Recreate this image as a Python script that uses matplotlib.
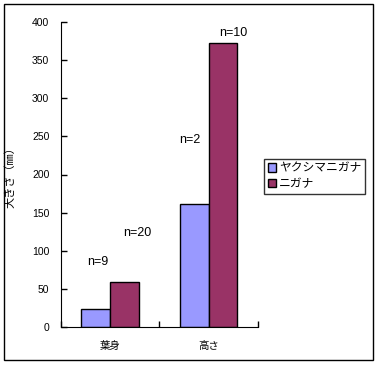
import matplotlib
matplotlib.use("Agg")
import matplotlib.pyplot as plt
from matplotlib.patches import Rectangle

plt.rcParams['font.family'] = ['Liberation Sans', 'Noto Sans CJK JP', 'DejaVu Sans']

# data
categories = ["葉身", "高さ"]
series_names = ["ヤクシマニガナ", "ニガナ"]
yakushima = [23, 161]
nigana = [59, 372]
n_yakushima = ["n=9", "n=2"]
n_nigana = ["n=20", "n=10"]
yticks = [0, 50, 100, 150, 200, 250, 300, 350, 400]

# label placement (data units)
lab_y_yakushima = [85, 245]
lab_y_nigana = [123, 386]
lab_dx_yakushima = [0.025, -0.045]
lab_dx_nigana = [0.135, 0.105]

colors = ["#9999FF", "#993366"]
width = 0.29

fig = plt.figure(figsize=(3.8, 3.66), dpi=100)
ax = fig.add_axes([60.5 / 380, 39 / 366, 197.5 / 380, 305 / 366])

x = list(range(len(categories)))
x_left = [i - width / 2 for i in x]
x_right = [i + width / 2 for i in x]
ax.bar(x_left, yakushima, width, color=colors[0], edgecolor="black", linewidth=1.0, label=series_names[0])
ax.bar(x_right, nigana, width, color=colors[1], edgecolor="black", linewidth=1.0, label=series_names[1])

for xi, yl, dx, t in zip(x_left, lab_y_yakushima, lab_dx_yakushima, n_yakushima):
    ax.text(xi + dx, yl, t, ha="center", va="center", fontsize=9)
for xi, yl, dx, t in zip(x_right, lab_y_nigana, lab_dx_nigana, n_nigana):
    ax.text(xi + dx, yl, t, ha="center", va="center", fontsize=9)

ax.set_xlim(-0.5, len(categories) - 0.5)
ax.set_ylim(0, 400)
ax.set_yticks(yticks)
ax.set_yticklabels([str(v) for v in yticks], fontsize=7.5)
ax.set_xticks([i - 0.5 for i in range(len(categories) + 1)])
ax.set_xticklabels([])
ax.set_xticks(x, minor=True)
ax.set_xticklabels(categories, minor=True, fontsize=7.5)
ax.tick_params(axis="x", which="minor", length=0, pad=10)
ax.tick_params(axis="x", which="major", direction="in", length=4, width=1)
ax.tick_params(axis="y", direction="in", length=4, width=1, pad=8)
ax.spines["top"].set_visible(False)
ax.spines["right"].set_visible(False)
ax.set_ylabel("大きさ（㎜）", fontsize=8, labelpad=12)

leg = fig.legend(loc="upper left", bbox_to_anchor=(264 / 380, 1 - 159 / 366), fontsize=8.5,
                 frameon=True, fancybox=False, edgecolor="black", handlelength=0.7,
                 handleheight=0.7, handletextpad=0.3, borderpad=0.3, labelspacing=0.3,
                 borderaxespad=0)
leg.get_frame().set_linewidth(1.0)

fig.patches.append(Rectangle((4 / 380, 6 / 366), 369 / 380, 356 / 366, transform=fig.transFigure,
                             fill=False, edgecolor="black", linewidth=1.0))

fig.savefig("out.png", dpi=100)
